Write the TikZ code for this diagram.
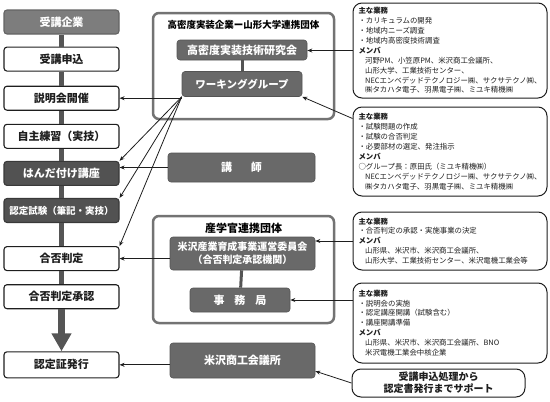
\documentclass[tikz,border=0pt]{standalone}
\usepackage{fontspec}
\setmainfont{Noto Sans CJK JP}
\usetikzlibrary{arrows.meta,positioning,calc}
\definecolor{ink}{RGB}{30,30,30}
\definecolor{panel}{RGB}{105,105,105}
\definecolor{panelsoft}{RGB}{125,125,125}
\definecolor{panelhard}{RGB}{82,82,82}
\definecolor{frameline}{RGB}{115,115,115}
\definecolor{spinegray}{RGB}{85,85,85}

\begin{document}
\begin{tikzpicture}[
    x=1pt, y=-1pt,
    node distance=12pt,
    every node/.style={font=\bfseries\fontsize{11}{13}\selectfont},
    flow/.style={
      rectangle,
      rounded corners=3pt,
      draw=ink,
      line width=1.1pt,
      fill=white,
      text=ink,
      minimum width=115pt,
      minimum height=24pt,
      inner sep=0pt
    },
    flowdark/.style={flow, fill=panelhard, draw=panelhard!70!black, text=white},
    unit/.style={
      rectangle,
      rounded corners=3pt,
      fill=panel,
      draw=panel!80!black,
      line width=0.6pt,
      text=white,
      align=center,
      inner sep=0pt
    },
    frame/.style={rectangle, rounded corners=6pt, draw=frameline, line width=2.5pt, inner sep=0pt},
    note/.style={
      rectangle,
      rounded corners=9pt,
      draw=ink,
      line width=1pt,
      fill=white,
      text=ink,
      align=left,
      text width=183pt,
      inner xsep=5.5pt,
      inner ysep=0pt,
      font=\fontsize{7.4}{9.9}\selectfont
    },
    spine/.style={draw=spinegray, line width=4.5pt},
    link/.style={draw=panel!80!black, line width=3pt},
    arr/.style={-{Stealth[length=5pt,width=4pt]}, draw=ink, line width=0.8pt},
    bigarr/.style={-{Triangle[length=18pt,width=19pt]}, draw=spinegray, line width=7.5pt}
  ]
    \useasboundingbox (0,0) rectangle (550,402);

    % left column
    \node[flow, fill=panelsoft, draw=panelsoft!80!black, text=white] (kigyo) at (61.5,22) {受講企業};
    \node[flow, below=of kigyo] (moushikomi) {受講申込};
    \node[flow, below=14pt of moushikomi] (setsumei) {説明会開催};
    \node[flow, below=13pt of setsumei] (jishu) {自主練習（実技）};
    \node[flowdark, below=of jishu] (handa) {はんだ付け講座};
    \node[flowdark, below=of handa, font=\bfseries\fontsize{9.5}{11}\selectfont] (shiken) {認定試験（筆記・実技）};
    \node[flow, below=23pt of shiken] (gohi) {合否判定};
    \node[flow, below=13pt of gohi] (shounin) {合否判定承認};
    \node[flow, below=42pt of shounin, minimum height=26pt] (ninteisho) {認定証発行};

    \draw[spine] (kigyo) -- (moushikomi);
    \draw[spine] (moushikomi) -- (setsumei);
    \draw[spine] (setsumei) -- (jishu);
    \draw[spine] (jishu) -- (handa);
    \draw[spine] (handa) -- (shiken);
    \draw[spine] (shiken) -- (gohi);
    \draw[spine] (gohi) -- (shounin);
    \draw[bigarr] (shounin) -- (ninteisho);

    % middle column
    \node[frame, minimum width=181pt, minimum height=106pt] (dantaiA) at (243.5,66) {};
    \node[font=\bfseries\fontsize{9.5}{11}\selectfont] (dantaiAtitle) at (243.5,25) {高密度実装企業ー山形大学連携団体};
    \node[unit, minimum width=130pt, minimum height=20pt] (kenkyu) at (242,50) {高密度実装技術研究会};
    \node[unit, minimum width=120pt, minimum height=25pt, font=\bfseries\fontsize{10.5}{12}\selectfont] (wg) at (242,84) {ワーキンググループ};
    \node[unit, minimum width=147pt, minimum height=29pt] (koushi) at (241.5,167.5) {講\hspace{1.7em}師};

    \node[frame, minimum width=181pt, minimum height=107pt] (dantaiB) at (243.5,269.5) {};
    \node (dantaiBtitle) at (243.5,228) {産学官連携団体};
    \node[unit, minimum width=145pt, minimum height=33pt, font=\bfseries\fontsize{10}{13}\selectfont] (iinkai) at (242.5,253.5) {米沢産業育成事業運営委員会\\（合否判定承認機関）};
    \node[unit, minimum width=100pt, minimum height=24pt] (jimu) at (240,300) {事\hspace{0.9em}務\hspace{0.9em}局};
    \node[unit, minimum width=145pt, minimum height=35pt] (kaigisho) at (242.5,360.5) {米沢商工会議所};

    \draw[link] (kenkyu) -- (wg);
    \draw[link] (iinkai) -- (jimu);

    % right column
    \node[note, minimum height=95pt] (noteA) at (450,50.5) {\textbf{主な業務}\\
      ・カリキュラムの開発\\
      ・地域内ニーズ調査\\
      ・地域内高密度技術調査\\
      \textbf{\itshape メンバ}\\
      \hspace*{0.9em}河野PM、小笠原PM、米沢商工会議所、\\
      \hspace*{0.9em}山形大学、工業技術センター、\\
      \hspace*{0.9em}NECエンベデッドテクノロジー㈱、サクサテクノ㈱、\\
      \hspace*{0.9em}㈱タカハタ電子、羽黒電子㈱、ミユキ精機㈱};
    \node[note, minimum height=89pt] (noteB) at (450,151.5) {\textbf{主な業務}\\
      ・試験問題の作成\\
      ・試験の合否判定\\
      ・必要部材の選定、発注指示\\
      \textbf{\itshape メンバ}\\
      ○グループ長：原田氏（ミユキ精機㈱）\\
      \hspace*{0.9em}NECエンベデッドテクノロジー㈱、サクサテクノ㈱、\\
      \hspace*{0.9em}㈱タカハタ電子、羽黒電子㈱、ミユキ精機㈱};
    \node[note, minimum height=58pt] (noteC) at (450,241) {\textbf{主な業務}\\
      ・合否判定の承認・実施事業の決定\\
      \textbf{\itshape メンバ}\\
      \hspace*{0.9em}山形県、米沢市、米沢商工会議所、\\
      \hspace*{0.9em}山形大学、工業技術センター、米沢電機工業会等};
    \node[note, minimum height=80pt] (noteD) at (450,323) {\textbf{主な業務}\\
      ・説明会の実施\\
      ・認定講座開講（試験含む）\\
      ・講座開講準備\\
      \textbf{\itshape メンバ}\\
      \hspace*{0.9em}山形県、米沢市、米沢商工会議所、BNO\\
      \hspace*{0.9em}米沢電機工業会中核企業};
    \node[note, align=center, text width=162pt, minimum height=28pt, font=\bfseries\fontsize{10}{12}\selectfont] (noteE) at (438.5,383) {受講申込処理から\\認定書発行までサポート};

    % connectors
    \draw[arr] (wg.west |- setsumei.east) -- (setsumei.east);
    \draw[arr] (wg.south west) -- (handa.north east);
    \draw[arr] (wg.south west) -- (shiken.north east);
    \draw[arr] (wg.south west) -- (gohi.north east);
    \draw[arr] (koushi.west) -- (koushi.west -| handa.east);
    \draw[arr] (iinkai.west |- gohi.east) -- (gohi.east);
    \draw[arr] (kaigisho.west |- ninteisho.east) -- (ninteisho.east);

    \draw[arr] (noteA.west) -- (noteA.west -| kenkyu.east);
    \draw[arr] ($(noteB.north west)+(0,12)$) -- (wg.south east);
    \draw[arr] (noteC.west) -- (noteC.west -| iinkai.east);
    \draw[arr] (noteD.west |- jimu.east) -- (jimu.east);
    \draw[arr] (noteE.west) -- ($(kaigisho.east)!0.6!(kaigisho.south east)$);
  \end{tikzpicture}
\end{document}
